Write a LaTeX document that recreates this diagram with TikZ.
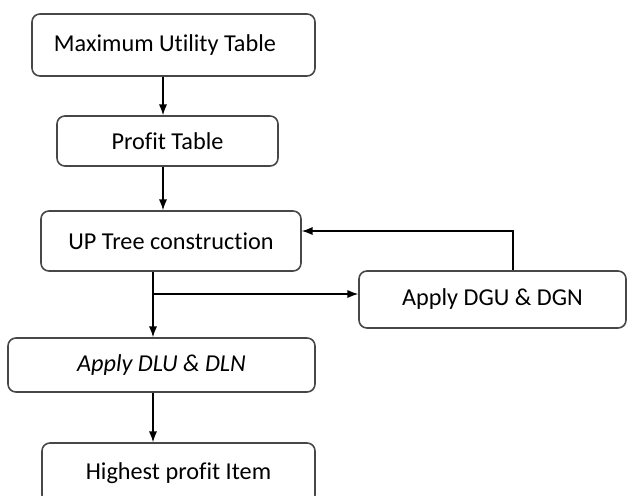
\documentclass[tikz,border=0pt]{standalone}
\usepackage{fontspec}
\setmainfont{Carlito}[Ligatures=NoCommon]
\usetikzlibrary{arrows.meta,positioning,calc}

\begin{document}
\begin{tikzpicture}[>=Latex,
  bx/.style={rectangle,rounded corners=4.5pt,draw=black!72,line width=0.9pt,fill=white,inner sep=0pt,font=\fontsize{13.8}{16}\selectfont},
  ar/.style={->,line width=0.7pt,black}]
\useasboundingbox (0,0) rectangle (12.54,-9.9);
\node[bx,minimum width=5.66cm,minimum height=1.24cm] (mut) at (3.47,-0.90) {\hspace*{-0.34cm}Maximum Utility Table};
\node[bx,minimum width=4.42cm,minimum height=1.00cm] (pt) at (3.35,-2.82) {Profit Table};
\node[bx,minimum width=5.20cm,minimum height=1.20cm] (upt) at (3.42,-4.82) {UP Tree construction};
\node[bx,minimum width=5.34cm,minimum height=1.14cm] (dgu) at (9.85,-5.99) {Apply DGU \& DGN};
\node[bx,minimum width=6.14cm,minimum height=1.08cm] (dlu) at (3.23,-7.30) {\itshape Apply DLU \& DLN};
\node[bx,minimum width=5.46cm,minimum height=1.20cm] (hpi) at (3.57,-9.46) {Highest profit Item};
% where the lines run
\coordinate (ax) at (3.26,0);
\coordinate (br) at (3.06,-5.88);
\coordinate (fb) at (10.26,-4.62);
\draw[ar] (mut.south -| ax) -- (pt.north -| ax);
\draw[ar] (pt.south -| ax) -- (upt.north -| ax);
\draw[ar] (upt.south -| br) -- (dlu.north -| br);
\draw[ar] (br) -- (br -| dgu.west);
\draw[ar] (dgu.north -| fb) |- (upt.east |- fb);
\draw[ar] (dlu.south -| br) -- (hpi.north -| br);
\end{tikzpicture}
\end{document}
